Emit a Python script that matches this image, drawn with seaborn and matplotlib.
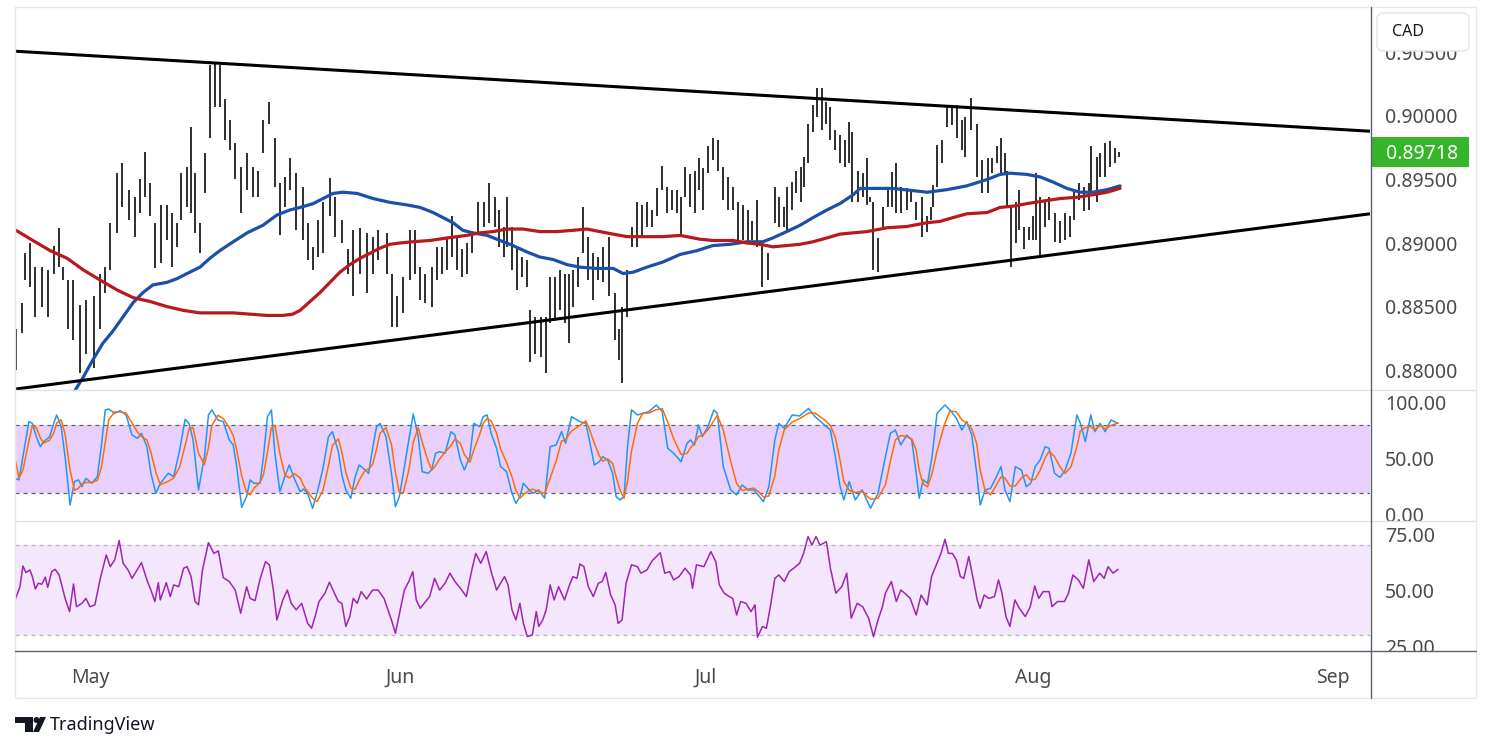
import matplotlib
matplotlib.use("Agg")
import matplotlib.pyplot as plt
import matplotlib.transforms as mtransforms
from matplotlib.patches import Rectangle, FancyBboxPatch, Polygon, Circle
import seaborn as sns

# ---- data (time axis in 4h-bar units) ----
bar_t = [
    0.0, 1.2, 1.8, 2.8, 3.8, 5.2, 6.5, 7.7, 8.7, 9.5,
    10.5, 11.5, 12.9, 14.1, 15.7, 16.9, 17.9, 19.0, 20.4, 21.4,
    22.8, 24.0, 25.0, 26.0, 27.0, 28.0, 29.2, 30.4, 31.5, 32.5,
    33.3, 34.5, 35.3, 36.1, 37.1, 38.1, 39.1, 40.1, 41.1, 42.1,
    43.1, 44.2, 45.4, 46.6, 47.8, 48.8, 49.8, 51.0, 52.2, 53.2,
    54.2, 55.2, 56.5, 57.9, 58.9, 59.9, 60.9, 61.9, 63.3, 64.3,
    65.7, 66.9, 67.9, 69.4, 70.8, 72.0, 73.0, 74.8, 75.8, 76.8,
    78.0, 79.4, 80.4, 81.5, 82.5, 83.9, 84.9, 85.9, 86.9, 87.9,
    88.9, 89.9, 90.9, 91.9, 93.1, 94.4, 95.4, 96.6, 97.4, 98.4,
    99.0, 100.0, 101.0, 102.0, 103.0, 103.6, 104.6, 105.8, 106.9, 107.7,
    108.7, 109.7, 110.7, 111.5, 112.3, 113.3, 114.3, 115.3, 116.3, 117.3,
    118.3, 119.6, 120.8, 121.6, 122.2, 123.2, 124.2, 125.2, 126.2, 127.2,
    128.2, 129.2, 130.2, 131.3, 132.3, 133.3, 134.1, 134.9, 135.9, 136.9,
    137.7, 138.5, 139.5, 140.5, 141.5, 142.5, 143.5, 144.6, 145.6, 146.6,
    147.6, 148.4, 149.4, 150.4, 151.6, 153.0, 153.8, 154.8, 155.4,
    156.5, 157.3, 158.3, 158.9, 159.7, 160.7, 161.5, 162.5, 163.3, 164.1,
    165.1, 166.1, 167.1, 167.9, 168.5, 169.8, 170.8, 171.6, 172.2, 172.8,
    173.8, 174.8, 175.8, 176.6, 177.4, 178.4, 179.6, 180.4, 181.5, 182.7,
    183.7, 184.5, 184.9, 185.7, 186.7, 187.7, 188.7, 189.7, 190.7, 191.3,
    192.5, 193.8, 194.8, 196.0, 196.8, 197.8, 198.6, 199.4, 199.8, 200.6,
    201.6, 202.2, 203.2, 204.2, 205.0, 205.6, 206.5, 207.5, 208.3, 209.5,
    210.5, 211.5, 212.5, 213.3, 214.3, 215.3, 216.3, 216.7, 217.9, 218.5,
    219.6, 220.6, 221.6, 222.4,
]
bar_high = [
    0.8832, 0.8853, 0.8892, 0.8900, 0.8881, 0.8881, 0.8879, 0.8898, 0.8912, 0.8881,
    0.8871, 0.8871, 0.8851, 0.8855, 0.8858, 0.8876, 0.8881, 0.8916, 0.8955, 0.8963,
    0.8942, 0.8936, 0.8950, 0.8972, 0.8947, 0.8916, 0.8930, 0.8930, 0.8924, 0.8916,
    0.8955, 0.8960, 0.8991, 0.8955, 0.8916, 0.8971, 0.9040, 0.9042, 0.9040, 0.9013,
    0.8997, 0.8979, 0.8960, 0.8971, 0.8960, 0.8957, 0.8997, 0.9011, 0.8983, 0.8947,
    0.8952, 0.8967, 0.8955, 0.8944, 0.8916, 0.8897, 0.8918, 0.8932, 0.8951, 0.8936,
    0.8918, 0.8895, 0.8910, 0.8912, 0.8908, 0.8905, 0.8910, 0.8908, 0.8876, 0.8858,
    0.8873, 0.8910, 0.8910, 0.8881, 0.8876, 0.8881, 0.8897, 0.8897, 0.8905, 0.8921,
    0.8905, 0.8895, 0.8900, 0.8908, 0.8932, 0.8932, 0.8947, 0.8936, 0.8926, 0.8913,
    0.8936, 0.8913, 0.8897, 0.8889, 0.8887, 0.8847, 0.8842, 0.8842, 0.8842, 0.8873,
    0.8873, 0.8879, 0.8876, 0.8876, 0.8879, 0.8889, 0.8928, 0.8905, 0.8892, 0.8889,
    0.8897, 0.8905, 0.8861, 0.8832, 0.8850, 0.8879, 0.8913, 0.8932, 0.8930, 0.8932,
    0.8926, 0.8943, 0.8961, 0.8944, 0.8942, 0.8942, 0.8936, 0.8960, 0.8954, 0.8957,
    0.8967, 0.8959, 0.8976, 0.8983, 0.8981, 0.8960, 0.8952, 0.8944, 0.8932, 0.8930,
    0.8926, 0.8917, 0.8934, 0.8900, 0.8892, 0.8944, 0.8936, 0.8928, 0.8944,
    0.8948, 0.8957, 0.8960, 0.8968, 0.8994, 0.9009, 0.9022, 0.9022, 0.9011, 0.9007,
    0.8989, 0.8985, 0.8981, 0.8995, 0.8987, 0.8957, 0.8955, 0.8967, 0.8936, 0.8932,
    0.8904, 0.8928, 0.8942, 0.8956, 0.8963, 0.8944, 0.8943, 0.8942, 0.8932, 0.8936,
    0.8921, 0.8928, 0.8946, 0.8977, 0.8981, 0.9009, 0.9007, 0.9009, 0.8997, 0.8999,
    0.9014, 0.8994, 0.8965, 0.8967, 0.8967, 0.8976, 0.8983, 0.8971, 0.8957, 0.8928,
    0.8932, 0.8942, 0.8913, 0.8913, 0.8921, 0.8955, 0.8936, 0.8934, 0.8936, 0.8924,
    0.8917, 0.8924, 0.8921, 0.8942, 0.8947, 0.8944, 0.8947, 0.8976, 0.8968, 0.8971,
    0.8979, 0.8980, 0.8975, 0.8972,
]
bar_low = [
    0.8800, 0.8829, 0.8871, 0.8865, 0.8842, 0.8850, 0.8842, 0.8876, 0.8881, 0.8871,
    0.8832, 0.8824, 0.8798, 0.8813, 0.8802, 0.8832, 0.8861, 0.8879, 0.8908, 0.8928,
    0.8918, 0.8905, 0.8924, 0.8936, 0.8921, 0.8880, 0.8884, 0.8902, 0.8881, 0.8897,
    0.8918, 0.8928, 0.8924, 0.8908, 0.8892, 0.8939, 0.8983, 0.9007, 0.9007, 0.8981,
    0.8973, 0.8950, 0.8924, 0.8942, 0.8936, 0.8936, 0.8971, 0.8994, 0.8944, 0.8906,
    0.8928, 0.8942, 0.8910, 0.8902, 0.8887, 0.8879, 0.8889, 0.8892, 0.8921, 0.8905,
    0.8900, 0.8876, 0.8858, 0.8876, 0.8861, 0.8876, 0.8887, 0.8876, 0.8834, 0.8834,
    0.8845, 0.8871, 0.8876, 0.8855, 0.8853, 0.8850, 0.8871, 0.8876, 0.8879, 0.8889,
    0.8879, 0.8873, 0.8876, 0.8892, 0.8908, 0.8913, 0.8916, 0.8913, 0.8897, 0.8889,
    0.8897, 0.8879, 0.8863, 0.8873, 0.8865, 0.8806, 0.8813, 0.8810, 0.8798, 0.8837,
    0.8839, 0.8847, 0.8837, 0.8821, 0.8850, 0.8865, 0.8892, 0.8871, 0.8855, 0.8871,
    0.8869, 0.8858, 0.8824, 0.8808, 0.8790, 0.8842, 0.8897, 0.8897, 0.8905, 0.8913,
    0.8913, 0.8921, 0.8942, 0.8924, 0.8926, 0.8924, 0.8905, 0.8936, 0.8928, 0.8924,
    0.8942, 0.8926, 0.8955, 0.8965, 0.8957, 0.8934, 0.8926, 0.8926, 0.8902, 0.8902,
    0.8900, 0.8902, 0.8897, 0.8865, 0.8871, 0.8916, 0.8913, 0.8913, 0.8910,
    0.8926, 0.8939, 0.8932, 0.8944, 0.8963, 0.8987, 0.8999, 0.8989, 0.8994, 0.8981,
    0.8973, 0.8963, 0.8960, 0.8963, 0.8932, 0.8932, 0.8936, 0.8930, 0.8932, 0.8879,
    0.8877, 0.8913, 0.8928, 0.8928, 0.8924, 0.8924, 0.8926, 0.8932, 0.8918, 0.8905,
    0.8909, 0.8918, 0.8928, 0.8944, 0.8963, 0.8991, 0.8993, 0.8983, 0.8973, 0.8968,
    0.8989, 0.8952, 0.8939, 0.8939, 0.8955, 0.8963, 0.8955, 0.8955, 0.8928, 0.8881,
    0.8900, 0.8910, 0.8895, 0.8902, 0.8902, 0.8902, 0.8889, 0.8913, 0.8918, 0.8901,
    0.8900, 0.8902, 0.8905, 0.8918, 0.8934, 0.8925, 0.8926, 0.8939, 0.8932, 0.8952,
    0.8952, 0.8960, 0.8963, 0.8968,
]
last_price = 0.89718

ma_fast_t = [10.9, 11.9, 13.5, 15.5, 17.5, 19.6, 21.6, 23.6, 25.6, 27.6,
             30.4, 32.5, 34.5, 37.1, 39.1, 41.1, 43.8, 46.6, 49.8, 52.6,
             55.2, 57.3, 59.9, 61.9, 63.9, 65.9, 68.8, 72.0, 75.4, 78.8,
             81.5, 84.1, 86.1, 88.1, 90.1, 92.1, 95.0, 97.6, 100.2, 103.0,
             105.6, 108.3, 111.1, 113.7, 117.1, 120.4, 122.4, 124.4, 127.2, 130.4,
             133.9, 137.3, 140.5, 144.0, 147.4, 150.6, 152.6, 155.4, 158.1, 160.7,
             163.5, 166.1, 168.8, 170.2, 172.2, 176.8, 183.7, 187.7, 191.7, 195.8,
             198.4, 200.4, 203.8, 206.5, 209.1, 211.9, 214.5, 217.1, 220.0, 222.6]
ma_fast = [0.8777, 0.8784, 0.8794, 0.8808, 0.8821, 0.8831, 0.8842, 0.8853, 0.8861, 0.8867,
           0.8869, 0.8872, 0.8876, 0.8881, 0.8888, 0.8894, 0.8901, 0.8908, 0.8914, 0.8922,
           0.8926, 0.8928, 0.8931, 0.8935, 0.8939, 0.8940, 0.8939, 0.8935, 0.8932, 0.8930,
           0.8928, 0.8924, 0.8920, 0.8916, 0.8910, 0.8908, 0.8906, 0.8902, 0.8898, 0.8893,
           0.8889, 0.8887, 0.8883, 0.8881, 0.8880, 0.8880, 0.8876, 0.8877, 0.8881, 0.8885,
           0.8891, 0.8894, 0.8898, 0.8899, 0.8901, 0.8901, 0.8904, 0.8909, 0.8914, 0.8920,
           0.8926, 0.8931, 0.8938, 0.8943, 0.8943, 0.8943, 0.8940, 0.8942, 0.8945, 0.8950,
           0.8954, 0.8955, 0.8954, 0.8952, 0.8948, 0.8943, 0.8940, 0.8940, 0.8942, 0.8945]
ma_slow_t = [0.0, 3.4, 6.9, 10.3, 13.5, 16.9, 20.4, 23.6, 27.0, 30.4,
             33.7, 37.1, 43.8, 50.6, 53.8, 55.8, 57.3, 59.3, 61.3, 63.3,
             65.3, 67.3, 69.4, 71.4, 73.4, 75.4, 77.4, 80.0, 83.5, 86.9,
             90.9, 93.5, 96.2, 99.0, 102.2, 105.6, 109.1, 112.3, 115.1, 117.7,
             120.4, 123.2, 127.2, 130.4, 133.9, 137.9, 140.5, 144.6, 147.4, 150.0,
             152.6, 155.4, 158.1, 160.7, 163.5, 166.1, 168.8, 171.6, 175.6, 179.6,
             183.7, 186.3, 188.9, 191.7, 195.8, 198.4, 201.0, 203.8, 207.1, 210.5,
             213.9, 217.1, 220.0, 222.6]
ma_slow = [0.8910, 0.8902, 0.8894, 0.8888, 0.8879, 0.8871, 0.8863, 0.8857, 0.8854, 0.8850,
           0.8847, 0.8845, 0.8845, 0.8843, 0.8843, 0.8844, 0.8847, 0.8854, 0.8861, 0.8869,
           0.8877, 0.8883, 0.8888, 0.8892, 0.8896, 0.8899, 0.8900, 0.8901, 0.8902, 0.8904,
           0.8906, 0.8908, 0.8909, 0.8911, 0.8911, 0.8909, 0.8909, 0.8910, 0.8911, 0.8909,
           0.8907, 0.8905, 0.8905, 0.8905, 0.8906, 0.8903, 0.8902, 0.8902, 0.8900, 0.8899,
           0.8897, 0.8898, 0.8899, 0.8901, 0.8904, 0.8907, 0.8908, 0.8909, 0.8912, 0.8913,
           0.8916, 0.8917, 0.8920, 0.8923, 0.8924, 0.8928, 0.8929, 0.8931, 0.8933, 0.8935,
           0.8936, 0.8938, 0.8940, 0.8943]

trend_t = [-0.2, 273.0]
trend_upper = [0.9051, 0.8988]
trend_lower = [0.8785, 0.8923]

stoch_t = [
    -0.2, 0.6, 1.4, 2.6, 3.3, 4.1, 4.9, 5.6, 6.8, 7.6,
    8.2, 9.1, 9.9, 10.9, 11.8, 12.6, 13.3, 14.1, 15.3, 16.4,
    17.2, 18.0, 18.7, 19.9, 21.0, 22.2, 23.4, 24.5, 25.3, 26.4,
    27.2, 28.2, 29.1, 30.7, 31.8, 33.0, 34.1, 34.9, 35.7, 36.8,
    38.0, 38.8, 39.5, 40.7, 41.8, 43.0, 43.8, 44.5, 45.5, 46.5,
    47.2, 48.0, 49.2, 49.9, 50.7, 51.5, 52.2, 53.2, 54.2, 55.1,
    56.1, 57.3, 58.0, 58.8, 59.8, 60.7, 61.9, 63.0, 63.8, 65.0,
    65.7, 66.5, 67.5, 68.4, 69.2, 70.4, 71.1, 71.9, 72.7, 73.4,
    74.6, 75.7, 76.5, 77.3, 78.1, 79.2, 80.1, 81.1, 81.9, 83.1,
    83.8, 84.6, 85.4, 86.5, 87.7, 88.5, 89.6, 90.4, 91.5, 92.3,
    93.5, 94.2, 95.0, 95.8, 96.9, 97.7, 98.9, 100.0, 100.8, 101.6,
    102.3, 103.5, 104.2, 105.4, 106.6, 107.7, 108.9, 110.0, 110.8, 112.0,
    113.7, 114.9, 115.6, 116.6, 117.6, 118.3, 119.3, 120.3, 121.0, 121.8,
    122.6, 123.3, 124.1, 125.3, 126.4, 127.6, 129.1, 130.3, 131.4, 132.6,
    134.1, 135.3, 136.0, 136.8, 137.6, 138.4, 139.5, 140.7, 141.4, 142.6,
    144.1, 145.3, 146.4, 147.6, 148.8, 149.9, 150.7, 151.8, 153.0, 153.8,
    154.9, 156.5, 158.0, 159.8, 161.1, 163.0, 164.2, 165.2, 166.1, 166.9,
    168.0, 169.2, 170.6, 172.3, 173.8, 175.3, 176.3, 177.3, 178.4, 179.6,
    180.6, 181.5, 182.1, 182.9, 183.8, 184.7, 185.7, 187.3, 188.3, 189.6,
    190.7, 191.7, 192.7, 193.7, 194.4, 195.4, 196.5, 197.7, 198.6, 199.4,
    200.4, 201.5, 202.7, 203.7, 204.6, 205.5, 206.5, 207.5, 208.3, 209.4,
    210.5, 211.5, 212.7, 213.9, 214.6, 215.6, 216.7, 217.5, 218.6, 219.6,
    220.8, 222.2,
]
stoch_k = [
    32.7, 31.3, 52.1, 83.3, 81.8, 69.9, 61.0, 65.5, 69.9, 81.8,
    89.3, 78.9, 52.1, 8.9, 29.8, 31.3, 25.3, 32.7, 28.3, 34.2,
    61.0, 93.8, 94.6, 90.8, 93.2, 89.3, 71.4, 68.5, 72.9, 61.0,
    37.2, 19.3, 28.3, 37.2, 34.2, 58.0, 85.4, 81.8, 67.0, 22.3,
    52.1, 89.3, 93.8, 84.8, 83.3, 67.0, 62.5, 43.2, 6.8, 16.4,
    31.3, 28.3, 28.3, 52.1, 87.8, 93.8, 55.1, 20.8, 34.2, 44.6,
    32.7, 20.8, 23.2, 19.3, 6.0, 19.3, 41.7, 69.9, 74.4, 56.5,
    35.7, 22.3, 14.9, 34.2, 44.6, 40.2, 37.2, 59.5, 78.9, 81.8,
    69.9, 37.2, 7.4, 16.4, 37.2, 67.0, 90.2, 69.9, 38.7, 37.2,
    40.2, 55.1, 56.5, 55.1, 74.4, 71.4, 49.1, 40.2, 52.1, 81.8,
    78.9, 87.8, 89.3, 72.9, 59.5, 43.2, 38.7, 19.3, 10.4, 16.4,
    28.3, 22.3, 19.3, 22.3, 14.9, 61.0, 62.5, 74.4, 64.0, 87.8,
    83.3, 81.8, 67.0, 44.6, 47.6, 52.1, 49.1, 37.2, 16.4, 13.4,
    16.4, 61.0, 93.8, 89.3, 90.8, 92.3, 98.2, 92.3, 59.5, 55.1,
    47.6, 64.0, 67.0, 62.5, 80.4, 70.0, 78.9, 93.8, 90.8, 43.2,
    22.3, 17.9, 26.8, 22.3, 22.3, 16.4, 11.9, 25.3, 67.0, 81.8,
    77.4, 89.3, 88.4, 95.2, 87.8, 80.4, 75.9, 52.1, 26.8, 13.4,
    29.8, 13.4, 22.3, 6.0, 19.3, 52.1, 72.9, 75.9, 62.5, 71.4,
    67.0, 37.2, 14.9, 31.3, 28.3, 52.1, 90.8, 98.2, 93.8, 86.3,
    75.9, 83.3, 71.4, 37.2, 8.9, 22.3, 23.8, 34.2, 43.2, 22.3,
    11.9, 43.2, 40.2, 25.3, 28.3, 43.2, 49.1, 61.0, 59.5, 37.2,
    33.6, 39.7, 55.1, 89.3, 81.8, 65.5, 89.3, 74.4, 81.8, 74.4,
    84.8, 81.8,
]
stoch_d = [
    50.6, 33, 40, 66, 80, 78, 69, 64, 67, 73,
    82, 85, 72, 40, 22, 24, 28, 29, 29, 31,
    42, 65, 85, 92, 92, 91, 82, 74, 70, 67,
    56, 38, 27, 30, 33, 43, 62, 77, 78, 55,
    45, 60, 80, 89, 86, 78, 71, 58, 35, 20,
    18, 24, 29, 36, 56, 78, 80, 55, 36, 33,
    37, 33, 26, 21, 15, 12, 22, 44, 62, 68,
    56, 38, 24, 23, 31, 40, 41, 45, 59, 73,
    78, 63, 38, 20, 20, 40, 65, 78, 65, 48,
    40, 44, 50, 56, 62, 68, 64, 54, 47, 58,
    72, 82, 86, 84, 73, 59, 47, 34, 22, 15,
    18, 22, 23, 21, 19, 33, 48, 66, 67, 75,
    80, 84, 77, 64, 53, 48, 50, 46, 34, 22,
    15, 30, 57, 82, 91, 91, 94, 95, 83, 68,
    54, 55, 60, 64, 70, 71, 76, 84, 89, 76,
    48, 28, 22, 23, 24, 20, 16, 17, 35, 58,
    76, 83, 86, 91, 91, 85, 80, 69, 50, 30,
    22, 20, 21, 14, 15, 27, 48, 67, 71, 70,
    68, 58, 40, 28, 25, 37, 57, 82, 93, 92,
    85, 82, 77, 64, 40, 22, 18, 27, 34, 33,
    26, 26, 33, 36, 31, 32, 40, 51, 57, 52,
    43, 37, 43, 61, 75, 78, 79, 76, 80, 77,
    80, 82,
]

rsi_t = [
    -0.2, 0.8, 1.4, 2.0, 2.8, 3.3, 3.9, 4.5, 5.2, 5.9,
    6.4, 7.2, 7.9, 8.7, 9.9, 10.8, 11.6, 12.2, 13.3, 14.1,
    14.9, 15.9, 17.0, 18.2, 19.0, 19.9, 20.8, 21.6, 22.6, 23.4,
    24.4, 25.3, 26.4, 27.2, 28.0, 28.7, 29.1, 30.3, 31.1, 31.8,
    32.8, 33.8, 34.5, 35.3, 36.1, 36.8, 37.6, 38.8, 39.9, 40.8,
    41.8, 43.0, 44.2, 45.3, 46.5, 47.2, 48.2, 49.2, 50.3, 51.1,
    51.9, 52.6, 53.8, 54.7, 55.5, 56.5, 57.6, 58.8, 59.6, 60.3,
    61.1, 62.3, 63.2, 64.2, 65.0, 65.7, 66.5, 67.3, 68.0, 68.8,
    69.6, 70.7, 71.9, 73.0, 74.2, 75.0, 75.7, 76.5, 77.3, 78.3,
    79.2, 80.0, 80.7, 81.5, 82.3, 83.4, 84.4, 85.4, 86.5, 87.5,
    88.5, 89.6, 90.8, 91.9, 92.7, 93.7, 94.8, 95.8, 96.9, 98.5,
    99.2, 100.0, 100.8, 101.6, 102.3, 103.1, 104.1, 104.9, 105.4, 106.2,
    106.9, 107.7, 108.5, 109.4, 110.6, 111.6, 112.3, 113.1, 113.7, 114.5,
    115.4, 116.4, 117.4, 118.2, 118.9, 119.9, 120.8, 121.4, 122.2, 123.0,
    124.1, 125.3, 126.0, 127.2, 128.3, 129.9, 130.8, 131.8, 132.6, 133.7,
    134.9, 136.0, 136.4, 137.2, 138.7, 140.1, 141.1, 141.8, 142.8, 143.8,
    144.5, 145.3, 146.1, 147.2, 148.2, 149.0, 149.5, 150.5, 151.3, 152.1,
    153.0, 153.8, 154.9, 155.9, 156.8, 158.0, 158.8, 159.7, 160.5, 161.3,
    162.1, 163.4, 164.2, 165.3, 166.5, 167.5, 168.4, 169.6, 170.7, 171.9,
    172.9, 173.8, 174.7, 175.3, 176.5, 177.5, 178.4, 179.2, 180.3, 181.5,
    182.5, 183.7, 184.6, 185.7, 186.5, 187.3, 188.0, 188.8, 189.6, 190.4,
    191.1, 192.1, 193.1, 193.8, 194.4, 195.2, 196.1, 197.3, 198.1, 198.8,
    199.6, 200.4, 201.4, 202.3, 203.5, 204.5, 205.4, 206.2, 207.1, 208.3,
    208.9, 210.0, 211.4, 212.2, 213.1, 214.2, 215.2, 216.3, 217.3, 218.5,
    219.4, 220.2, 221.2, 222.2,
]
rsi = [
    45.7, 51.6, 60.8, 57.9, 59.0, 56.1, 50.6, 53.1, 52.7, 55.8,
    51.3, 58.3, 59.3, 56.8, 46.4, 40.5, 52.8, 42.7, 44.2, 46.4,
    42.7, 43.5, 55.3, 65.7, 60.5, 63.5, 72.1, 62.0, 59.0, 55.3,
    59.0, 62.3, 54.6, 50.1, 45.0, 53.4, 45.7, 53.4, 47.2, 52.4,
    51.6, 59.8, 60.5, 56.1, 45.0, 43.5, 59.0, 71.2, 66.4, 67.5,
    55.6, 53.9, 50.1, 39.8, 51.6, 46.4, 45.4, 54.9, 62.7, 61.3,
    50.1, 36.8, 45.7, 50.1, 44.2, 41.3, 44.2, 35.3, 33.1, 38.3,
    45.0, 48.7, 53.6, 48.7, 45.0, 44.2, 33.9, 38.3, 46.4, 44.2,
    49.4, 46.1, 50.1, 50.1, 46.4, 41.3, 36.8, 30.9, 39.5, 50.1,
    53.9, 58.3, 45.7, 42.0, 44.2, 47.2, 55.3, 50.1, 53.1, 57.6,
    53.9, 50.9, 47.2, 59.0, 66.4, 62.0, 67.2, 58.3, 50.1, 56.1,
    52.4, 41.3, 36.8, 44.2, 35.3, 29.4, 30.1, 40.5, 33.9, 36.8,
    41.3, 52.4, 45.7, 51.6, 45.7, 52.4, 56.1, 55.3, 61.7, 60.5,
    51.6, 47.2, 53.1, 53.9, 57.9, 47.9, 43.5, 35.3, 36.8, 53.1,
    61.3, 60.5, 57.6, 59.0, 63.2, 66.7, 57.6, 58.3, 54.6, 56.1,
    59.8, 56.8, 50.9, 61.3, 60.5, 67.2, 62.7, 52.4, 48.7, 47.2,
    46.4, 39.0, 45.0, 44.2, 40.5, 43.5, 29.1, 33.9, 33.1, 42.7,
    55.3, 56.8, 53.9, 58.3, 59.8, 62.0, 66.4, 73.9, 70.1, 73.9,
    70.1, 71.6, 59.8, 48.7, 51.6, 57.6, 37.6, 44.2, 42.7, 37.6,
    29.4, 36.8, 42.7, 48.7, 53.9, 45.0, 50.1, 48.7, 46.4, 39.0,
    47.9, 43.5, 56.1, 62.0, 66.4, 72.7, 66.4, 66.4, 63.5, 56.1,
    55.3, 65.0, 53.9, 45.7, 42.0, 47.9, 46.4, 47.2, 54.6, 48.7,
    38.3, 33.9, 45.7, 42.0, 38.3, 42.7, 51.9, 46.4, 49.4, 49.4,
    42.7, 45.0, 45.0, 48.7, 56.8, 54.6, 50.9, 63.5, 53.9, 57.6,
    55.3, 60.5, 57.6, 59.3,
]

month_t = [14.9, 77.4, 139.1, 205.0, 265.5]
month_labels = ["May", "Jun", "Jul", "Aug", "Sep"]
price_ticks = [0.880, 0.885, 0.890, 0.895, 0.900, 0.905]
stoch_ticks = [0, 50, 100]
rsi_ticks = [25, 50, 75]

assert len(bar_t) == len(bar_high) == len(bar_low)
assert len(ma_fast_t) == len(ma_fast) and len(ma_slow_t) == len(ma_slow)
assert len(stoch_t) == len(stoch_k) == len(stoch_d)
assert len(rsi_t) == len(rsi)

# ---- figure ----
sns.set_style("white")
plt.rcParams["font.family"] = ["Noto Sans", "DejaVu Sans"]

W, H = 1491, 752
TXT = "#4a4a4a"

fig = plt.figure(figsize=(W / 100, H / 100), dpi=100)
fig.patch.set_facecolor("white")


def pane(top, bottom):
    return [15 / W, 1 - bottom / H, 1355 / W, (bottom - top) / H]


ax_p = fig.add_axes(pane(8, 390))
ax_s = fig.add_axes(pane(390, 521))
ax_r = fig.add_axes(pane(521, 651))

# price pane
ax_p.vlines(bar_t, bar_low, bar_high, color="black", linewidth=1.15)
sns.lineplot(x=ma_fast_t, y=ma_fast, ax=ax_p, color="#1c4fa8", linewidth=2.3)
sns.lineplot(x=ma_slow_t, y=ma_slow, ax=ax_p, color="#b8191d", linewidth=2.3)
sns.lineplot(x=trend_t, y=trend_upper, ax=ax_p, color="black", linewidth=2.2)
sns.lineplot(x=trend_t, y=trend_lower, ax=ax_p, color="black", linewidth=2.2)
ax_p.set_ylim(0.87843, 0.90850)

# stochastic pane
ax_s.axhspan(20, 80, color="#e9cffc", lw=0)
for lvl in (20, 80):
    ax_s.axhline(lvl, color="#5d606b", lw=0.9, ls=(0, (3.2, 3.2)))
sns.lineplot(x=stoch_t, y=stoch_k, ax=ax_s, color="#2196f3", linewidth=1.1)
sns.lineplot(x=stoch_t, y=stoch_d, ax=ax_s, color="#ff6d00", linewidth=1.1)
ax_s.set_ylim(-5.4, 111.6)

# rsi pane
ax_r.axhspan(30, 70, color="#f3e6fd", lw=0)
for lvl in (30, 70):
    ax_r.axhline(lvl, color="#b2b5be", lw=0.9, ls=(0, (3.2, 3.2)))
sns.lineplot(x=rsi_t, y=rsi, ax=ax_r, color="#9c27b0", linewidth=1.1)
ax_r.set_ylim(23.0, 80.8)

for ax, ticks, fmt in ((ax_p, price_ticks, "{:.5f}"),
                       (ax_s, stoch_ticks, "{:.2f}"),
                       (ax_r, rsi_ticks, "{:.2f}")):
    ax.set_xlim(-0.2, 273.0)
    ax.yaxis.tick_right()
    ax.set_yticks(ticks)
    ax.set_yticklabels([fmt.format(v) for v in ticks])
    ax.tick_params(axis="y", length=0, pad=11, labelsize=14, labelcolor=TXT)
    ax.tick_params(axis="x", length=0)
    ax.set_xlabel("")
    ax.set_ylabel("")
    for s in ax.spines.values():
        s.set_visible(False)

ax_p.set_xticks([])
ax_s.set_xticks([])
ax_r.set_xticks(month_t)
ax_r.set_xticklabels(month_labels)
ax_r.tick_params(axis="x", pad=12, labelsize=14, labelcolor=TXT)

# last price label
trans = mtransforms.blended_transform_factory(ax_p.transAxes, ax_p.transData)
ax_p.add_patch(Rectangle((1.0015, last_price - 0.00118), 0.0716, 0.00236,
                         transform=trans, clip_on=False, color="#36b52a", lw=0, zorder=5))
ax_p.text(1.0118, last_price, f"{last_price:.5f}", transform=trans, color="white",
          fontsize=14, fontweight="bold", va="center_baseline", ha="left", zorder=6)

# frame, separators, header box, logo (pixel coordinates)
ov = fig.add_axes([0, 0, 1, 1], zorder=10)
ov.set_xlim(0, W)
ov.set_ylim(H, 0)
ov.axis("off")
ov.add_patch(Rectangle((15, 7), 1461, 691, fill=False, ec="#e6e8ee", lw=1.0))
ov.plot([15, 1476], [390, 390], color="#e0e3eb", lw=1.0)
ov.plot([15, 1476], [521, 521], color="#e0e3eb", lw=1.0)
ov.add_patch(Rectangle((1372, 652), 103, 45, color="white", lw=0))
ov.plot([15, 1476], [651, 651], color="#5d606b", lw=1.0)
ov.plot([1371, 1371], [7, 698], color="#5d606b", lw=1.0)
ov.add_patch(FancyBboxPatch((1377, 13), 92, 38, boxstyle="round,pad=0,rounding_size=6",
                            fc="white", ec="#e0e3eb", lw=1.0))
ov.text(1392, 32, "CAD", fontsize=11.5, color="#131722", va="center", ha="left")

ov.add_patch(Polygon([(15, 717), (33, 717), (33, 732), (25, 732), (25, 723), (15, 723)],
                     closed=True, color="#131722", lw=0))
ov.add_patch(Circle((36.5, 720), 3, color="#131722", lw=0))
ov.add_patch(Polygon([(40, 717), (46, 717), (39, 732), (33, 732)], closed=True,
                     color="#131722", lw=0))
ov.text(50, 725, "TradingView", fontsize=13, color="#131722", va="center", ha="left")

fig.savefig("out.png", dpi=100, facecolor="white")
